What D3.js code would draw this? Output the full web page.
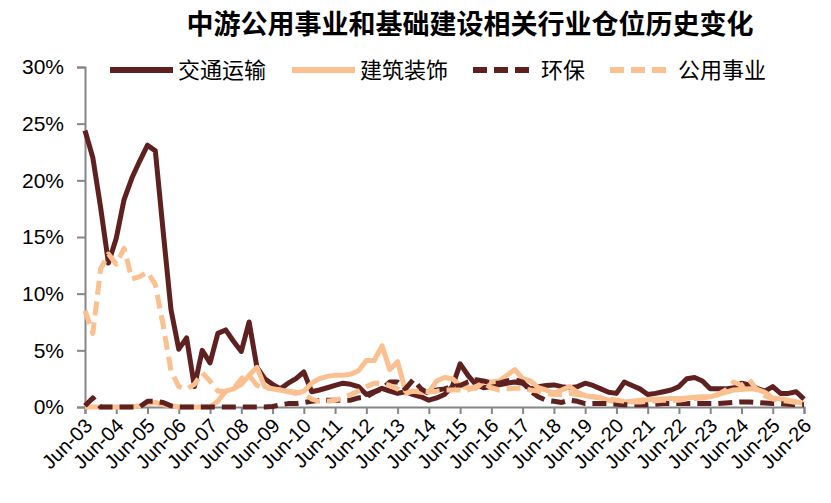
<!DOCTYPE html>
<html lang="zh">
<head>
<meta charset="UTF-8">
<title>中游公用事业和基础建设相关行业仓位历史变化</title>
<script src="https://d3js.org/d3.v7.min.js"></script>
<style>
  body { margin: 0; background: #fff; }
  svg text { font-family: "Liberation Sans", Arial, sans-serif; }
  .cjk { font-family: "Noto Sans CJK SC", "Noto Sans", sans-serif; }
</style>
</head>
<body>
<svg id="chart" width="831" height="503"></svg>
<script>
// Quarterly holdings share, Jun-03 .. Jun-26 (93 quarters), in %
const transport = [24.4, 22.0, 17.6, 12.7, 14.9, 18.3, 20.2, 21.7, 23.1, 22.6,
  15.5, 8.6, 5.1, 6.1, 1.8, 5.0, 3.9, 6.5, 6.8, 5.8,
  4.9, 7.5, 3.5, 2.5, 2.0, 1.6, 2.1, 2.5, 3.1, 1.35,
  1.5, 1.7, 1.9, 2.1, 2.0, 1.8, 1.1, 1.35, 1.65, 1.4,
  1.2, 1.35, 1.1, 0.9, 0.6, 0.8, 1.1, 1.8, 3.8, 2.8,
  2.0, 1.7, 1.8, 1.95, 2.1, 2.2, 2.1, 1.6, 1.8, 1.9,
  1.95, 1.8, 1.7, 1.8, 2.1, 1.9, 1.6, 1.3, 1.2, 2.2,
  1.9, 1.6, 1.1, 1.2, 1.35, 1.5, 1.8, 2.5, 2.6, 2.3,
  1.6, 1.6, 1.6, 1.7, 2.1, 1.95, 1.65, 1.4, 1.8, 1.2,
  1.2, 1.35, 0.7];

const construction = [0, 0, 0, 0, 0, 0, 0, 0.1, 0.3, 0.4,
  0.2, 0.1, 0, 0, 0, 0, 0, 0.5, 1.4, 1.6,
  2.0, 2.8, 3.5, 1.8, 1.6, 1.5, 1.35, 1.2, 1.4, 2.1,
  2.5, 2.7, 2.8, 2.8, 2.9, 3.2, 4.1, 4.1, 5.4, 3.3,
  4.0, 1.4, 1.4, 1.3, 1.3, 2.3, 2.6, 2.5, 1.9, 1.7,
  1.65, 2.2, 2.2, 2.3, 2.8, 3.3, 2.5, 2.3, 1.7, 1.5,
  1.2, 1.5, 1.8, 1.3, 1.0, 0.9, 0.8, 0.6, 0.45, 0.45,
  0.5, 0.6, 0.65, 0.7, 0.7, 0.75, 0.75, 0.8, 0.85, 0.9,
  0.9, 1.1, 1.3, 1.5, 1.55, 1.6, 1.55, 1.3, 0.8, 0.7,
  0.6, 0.45, 0.3];

const environment = [0.1, 0.8, 0, 0, 0, 0, 0, 0, 0.5, 0.5,
  0.4, 0.1, 0, 0, 0, 0, 0, 0, 0, 0,
  0, 0, 0, 0, 0.05, 0.2, 0.3, 0.3, 0.4, 0.5,
  0.6, 0.6, 0.6, 0.6, 0.6, 0.8, 0.9, 1.3, 1.6, 2.2,
  2.2, 1.6, 2.4, 1.6, 1.2, 1.5, 1.6, 1.8, 1.9, 2.2,
  2.4, 2.3, 2.1, 2.1, 2.3, 2.4, 2.2, 1.4, 0.9, 0.6,
  0.5, 0.4, 0.6, 0.5, 0.3, 0.3, 0.3, 0.3, 0.25, 0.2,
  0.2, 0.2, 0.2, 0.25, 0.3, 0.3, 0.3, 0.3, 0.3, 0.3,
  0.3, 0.3, 0.35, 0.4, 0.45, 0.45, 0.4, 0.35, 0.3, 0.3,
  0.25, 0.2, 0.2];

const utilities = [8.5, 6.5, 12.2, 13.5, 12.6, 14.0, 11.3, 11.5, 11.9, 10.8,
  7.2, 3.2, 1.8, 1.6, 2.0, 3.0, 2.3, 1.4, 1.4, 1.6,
  2.5, 2.8, 1.9, 1.7, 1.6, 1.5, 1.4, 1.3, 1.2, 0.7,
  0.5, 0.5, 0.6, 0.8, 1.1, 1.4, 1.8, 2.1, 2.1, 1.9,
  1.6, 1.2, 1.4, 1.4, 1.35, 1.4, 1.5, 1.5, 1.5, 1.5,
  1.8, 2.1, 1.7, 1.5, 1.6, 1.65, 1.65, 1.5, 1.4, 1.2,
  1.1, 1.1, 1.2, 1.1, 1.0, 0.9, 0.8, 0.7, 0.6, 0.5,
  0.45, 0.45, 0.5, 0.55, 0.6, 0.6, 0.6, 0.7, 0.75, 0.8,
  0.9, 1.1, 1.5, 2.2, 1.9, 2.4, 1.5, 1.0, 0.7, 0.6,
  0.5, 0.4, 0.35];

const xLabels = ["Jun-03", "Jun-04", "Jun-05", "Jun-06", "Jun-07", "Jun-08",
  "Jun-09", "Jun-10", "Jun-11", "Jun-12", "Jun-13", "Jun-14", "Jun-15",
  "Jun-16", "Jun-17", "Jun-18", "Jun-19", "Jun-20", "Jun-21", "Jun-22",
  "Jun-23", "Jun-24", "Jun-25", "Jun-26"];
const yTicks = [0, 5, 10, 15, 20, 25, 30];

const series = [
  {name: "交通运输", values: transport,    color: "#5f2120", dash: null},
  {name: "建筑装饰", values: construction, color: "#fac090", dash: null},
  {name: "环保",     values: environment,  color: "#5f2120", dash: "14,7"},
  {name: "公用事业", values: utilities,    color: "#fac090", dash: "14,7"}
];

const svg = d3.select("#chart");
const plotLeft = 85, plotRight = 804, plotTop = 67, plotBottom = 407;
const axisColor = "#868686";

// quarters per label = 4
const x = d3.scaleLinear().domain([0, (xLabels.length - 1) * 4]).range([plotLeft, plotRight]);
const y = d3.scaleLinear().domain([0, 30]).range([plotBottom, plotTop]);

// title
svg.append("text")
    .attr("class", "cjk")
    .attr("x", 470).attr("y", 34)
    .attr("text-anchor", "middle")
    .attr("font-size", 27)
    .attr("font-weight", 700)
    .text("中游公用事业和基础建设相关行业仓位历史变化");

// y axis
const yAxis = svg.append("g")
    .attr("transform", `translate(${plotLeft},0)`)
    .call(d3.axisLeft(y).tickValues(yTicks).tickSize(8).tickPadding(13)
      .tickFormat(d => d + "%"));
yAxis.select(".domain").attr("stroke", axisColor).attr("stroke-width", 2);
yAxis.selectAll(".tick line").attr("stroke", axisColor).attr("stroke-width", 2);
yAxis.selectAll(".tick text")
    .attr("font-size", 21)
    .attr("fill", "#000")
    .attr("font-family", "Liberation Sans, Arial, sans-serif");

// x axis
const xAxis = svg.append("g")
    .attr("transform", `translate(0,${plotBottom})`)
    .call(d3.axisBottom(x).tickValues(xLabels.map((d, i) => i * 4)).tickSize(7)
      .tickFormat((d, i) => xLabels[i]));
xAxis.select(".domain").attr("stroke", axisColor).attr("stroke-width", 2);
xAxis.selectAll(".tick line").attr("stroke", axisColor).attr("stroke-width", 2);
xAxis.selectAll(".tick text")
    .attr("font-size", 20)
    .attr("fill", "#000")
    .attr("font-family", "Liberation Sans, Arial, sans-serif")
    .attr("text-anchor", "end")
    .attr("dy", null)
    .attr("y", 0)
    .attr("transform", "translate(8,20) rotate(-45)");

// lines
const line = d3.line()
    .x((d, i) => x(i))
    .y(d => y(d));

series.forEach(s => {
  svg.append("path")
      .datum(s.values)
      .attr("fill", "none")
      .attr("stroke", s.color)
      .attr("stroke-width", 5)
      .attr("stroke-linejoin", "round")
      .attr("stroke-dasharray", s.dash)
      .attr("d", line);
});

// legend
const legendX = [110, 292, 473, 610];
const legend = svg.append("g");
series.forEach((s, i) => {
  const g = legend.append("g").attr("transform", `translate(${legendX[i]},70)`);
  g.append("line")
      .attr("x1", 0).attr("x2", 63)
      .attr("stroke", s.color)
      .attr("stroke-width", 6)
      .attr("stroke-dasharray", s.dash);
  g.append("text")
      .attr("class", "cjk")
      .attr("x", 68).attr("y", 8)
      .attr("font-size", 22)
      .text(s.name);
});
</script>
